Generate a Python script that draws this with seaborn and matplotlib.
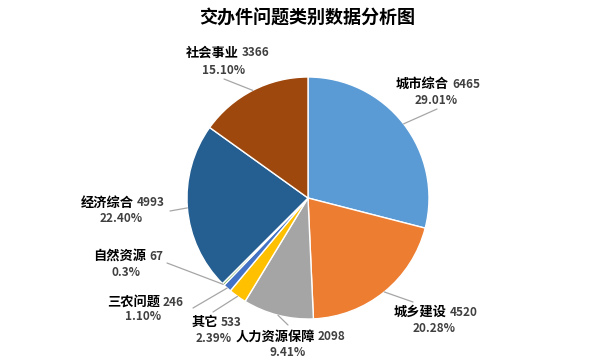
import numpy as np
import matplotlib.pyplot as plt
import seaborn as sns

# ---------- data ----------
categories = ["城市综合", "城乡建设", "人力资源保障", "其它", "三农问题", "自然资源", "经济综合", "社会事业"]
counts = [6465, 4520, 2098, 533, 246, 67, 4993, 3366]
pct_labels = ["29.01%", "20.28%", "9.41%", "2.39%", "1.10%", "0.3%", "22.40%", "15.10%"]
colors = ["#5B9BD5", "#ED7D31", "#A5A5A5", "#FFC000", "#4472C4", "#70AD47", "#255E91", "#9E480E"]

# label layout in pixels (y from top): name/value split x, line-1 y, pct centre x, pct y, leader end
label_layout = [
    (449, 84, 436, 101, (437, 109)),
    (447, 312, 434, 328, (413, 302)),
    (315, 337, 288, 352, (288, 325)),
    (218, 322, 214, 338, (213, 312)),
    (160, 302, 143, 317, (193, 308)),
    (146, 256, 126, 272, (167, 263)),
    (134, 203, 121, 219, (170, 211)),
    (239, 53, 224, 71, (224, 79)),
]

sns.set_theme(style="white")
plt.rcParams['font.family'] = ['Noto Sans CJK SC', 'DejaVu Sans']

W, H = 612, 364
fig = plt.figure(figsize=(6.12, 3.64), dpi=100)
ax = fig.add_axes([0, 0, 1, 1])

cx, cy, r = 308, 198, 121
wedges, _ = ax.pie(counts, colors=colors, startangle=90, counterclock=False,
                   center=(cx, H - cy), radius=r, frame=True,
                   wedgeprops=dict(edgecolor="white", linewidth=1))
ax.set_xlim(0, W)
ax.set_ylim(0, H)
ax.set_aspect("equal")
ax.axis("off")

for w, name, val, pct, (xs, y1, xp, yp, end) in zip(wedges, categories, counts,
                                                   pct_labels, label_layout):
    ang = np.deg2rad((w.theta1 + w.theta2) / 2)
    x0 = cx + r * np.cos(ang)
    y0 = (H - cy) + r * np.sin(ang)
    ax.plot([x0, end[0]], [y0, H - end[1]], color="#A6A6A6", lw=0.9)
    ax.text(xs, H - y1, name, ha="right", va="center", fontsize=9.5,
            fontweight="bold", color="black")
    ax.text(xs + 3, H - y1, str(val), ha="left", va="center", fontsize=8.5,
            fontweight="bold", color="#404040")
    ax.text(xp, H - yp, pct, ha="center", va="center", fontsize=8.5,
            fontweight="bold", color="#404040")

ax.text(307, H - 18, "交办件问题类别数据分析图", ha="center", va="center",
        fontsize=13, fontweight="bold", color="black")

fig.savefig("out.png", dpi=100)
